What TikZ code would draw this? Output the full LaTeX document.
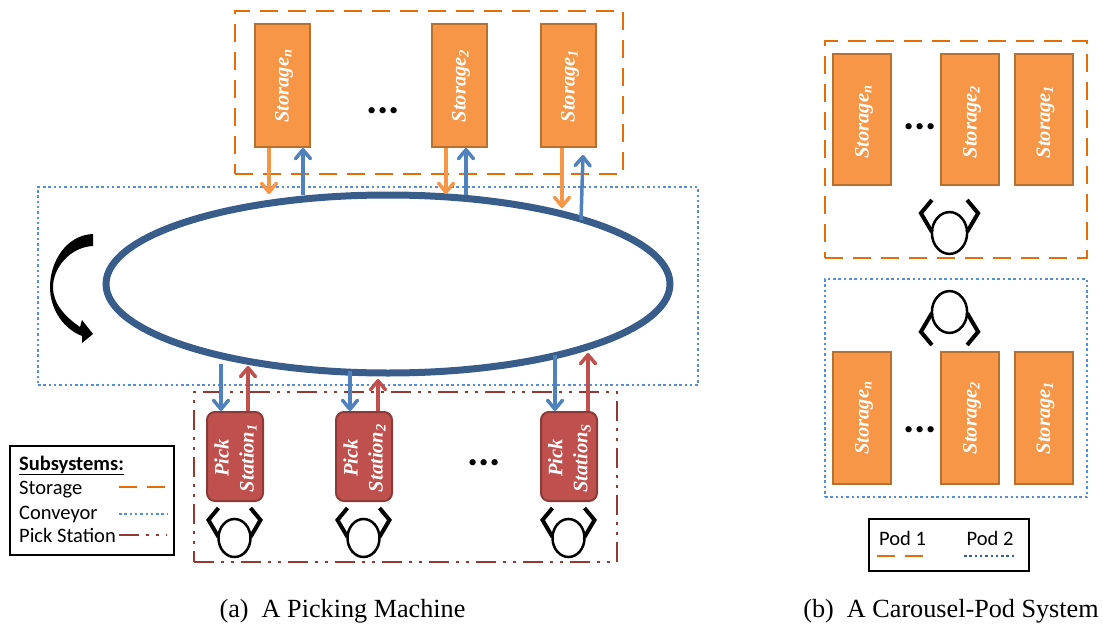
\documentclass[tikz,border=0pt]{standalone}
\usepackage{fontspec}
\setmainfont{Liberation Serif}
\newfontfamily\calibrifont{Carlito}
\usetikzlibrary{positioning, arrows.meta, shapes.geometric, calc}
\definecolor{storagefill}{HTML}{F79646}
\definecolor{storageedge}{HTML}{B7702F}
\definecolor{storagedash}{HTML}{E46C0A}
\definecolor{pickfill}{HTML}{C0504D}
\definecolor{pickedge}{HTML}{8C3A38}
\definecolor{pickdash}{HTML}{953735}
\definecolor{beltblue}{HTML}{4F81BD}
\definecolor{beltdot}{HTML}{558ED5}
\definecolor{beltedge}{HTML}{385D8A}
\definecolor{poddot}{HTML}{376092}
\tikzset{
    storagebox/.style={draw=storageedge, fill=storagefill, line width=2pt, inner sep=0pt},
    storagetext/.style={rotate=90, white, inner sep=0pt, font=\fontsize{20.5}{22}\selectfont\bfseries\itshape},
    pickbox/.style={draw=pickedge, fill=pickfill, line width=2pt, inner sep=0pt, rounded corners=8pt, minimum width=56pt, minimum height=89pt},
    picktext/.style={rotate=90, white, inner sep=0pt, align=center, font=\fontsize{20.5}{25}\selectfont\bfseries\itshape},
    storagegroup/.style={draw=storagedash, line width=2.5pt, dash pattern=on 18pt off 10pt},
    beltgroup/.style={draw=beltdot, line width=2.5pt, dash pattern=on 2.5pt off 2.8pt},
    pickgroup/.style={draw=pickdash, line width=2.5pt, dash pattern=on 20pt off 7pt on 3pt off 7pt on 3pt off 7pt},
    storeflow/.style={draw=storagefill, line width=3.5pt, -{Straight Barb[length=9pt, width=15pt, round]}},
    beltflow/.style={draw=beltblue, line width=3.5pt, -{Straight Barb[length=9pt, width=15pt, round]}},
    pickflow/.style={draw=pickfill, line width=3.5pt, -{Straight Barb[length=9pt, width=15pt, round]}},
    legendbox/.style={draw=black, line width=2.5pt, inner sep=0pt},
    legendtext/.style={anchor=base west, inner sep=0pt, font=\calibrifont\fontsize{20.5}{22}\selectfont},
    moredots/.style={anchor=base, inner sep=0pt, font=\calibrifont\fontsize{42}{44}\selectfont\bfseries},
    captiontext/.style={inner sep=0pt, font=\fontsize{26.2}{28}\selectfont},
    pics/person/.style={code={
        \draw[black, line width=2.5pt] (0,0) ellipse [x radius=16, y radius=19];
        \draw[black, line width=4pt] (-16,-1) -- (-26,-18) -- (-16,-30);
        \draw[black, line width=4pt] (16,-1) -- (26,-18) -- (16,-30);
    }}
}

\begin{document}
\begin{tikzpicture}[x=1pt, y=-1pt]
    \useasboundingbox (0,0) rectangle (1103,626);

    % === PICKING MACHINE: GROUPS ===
    \node[storagegroup, minimum width=388pt, minimum height=163pt, inner sep=0pt] (storagearea) at (429,92.5) {};
    \node[beltgroup, minimum width=660pt, minimum height=198pt, inner sep=0pt] (beltarea) at (368,286) {};
    \node[pickgroup, minimum width=423pt, minimum height=170pt, inner sep=0pt] (pickarea) at (405.5,477) {};

    % Storage
    \node[storagebox, minimum width=55pt, minimum height=123pt] (stn) at (282.5,85.5) {};
    \node[storagetext] (stnlabel) at (284,86) {Storage\textsubscript{n}};
    \node[storagebox, minimum width=55pt, minimum height=123pt] (st2) at (459.5,85.5) {};
    \node[storagetext] (st2label) at (461,86) {Storage\textsubscript{2}};
    \node[storagebox, minimum width=55pt, minimum height=123pt] (st1) at (568.5,85.5) {};
    \node[storagetext] (st1label) at (570,86) {Storage\textsubscript{1}};
    \node[moredots] (stdots) at (383,113) {...};

    % Conveyor
    \node[draw=beltedge, line width=7pt, ellipse, inner sep=0pt, minimum width=564pt, minimum height=178pt] (loop) at (388,284) {};
    \fill[black] (93,234) .. controls (66,235) and (50,262) .. (50,287)
        .. controls (50,308) and (62,328) .. (82,336) -- (82,343) -- (93,334) -- (82,320) -- (80,327)
        .. controls (64,316) and (53,303) .. (53,287)
        .. controls (53,268) and (70,247) .. (93,246) -- cycle;

    % Pick stations
    \node[pickbox] (pk1) at (235,456.5) {};
    \node[picktext] (pk1label) at (235.5,458) {Pick\\Station\textsubscript{1}};
    \node[pickbox] (pk2) at (364,456.5) {};
    \node[picktext] (pk2label) at (364.5,458) {Pick\\Station\textsubscript{2}};
    \node[pickbox] (pks) at (569,456.5) {};
    \node[picktext] (pkslabel) at (569.5,458) {Pick\\Station\textsubscript{S}};
    \node[moredots] (pkdots) at (484,465) {...};

    \pic at (234.5,538) {person};
    \pic at (363.5,538) {person};
    \pic at (568.5,538) {person};

    % Arrows storage <-> conveyor
    \coordinate (instn) at (269,194);
    \coordinate (outstn) at (303,195);
    \coordinate (inst2) at (446,194);
    \coordinate (outst2) at (466,195);
    \coordinate (inst1) at (562,208);
    \coordinate (outst1) at (581,220);
    \coordinate (tipst1) at (583,155);
    \draw[storeflow] (stn.south -| instn) -- (instn);
    \draw[beltflow] (outstn) -- (stn.south -| outstn);
    \draw[storeflow] (st2.south -| inst2) -- (inst2);
    \draw[beltflow] (outst2) -- (st2.south -| outst2);
    \draw[storeflow] (st1.south -| inst1) -- (inst1);
    \draw[beltflow] (outst1) -- (tipst1);

    % Arrows conveyor <-> pick stations
    \coordinate (inpk1) at (221,364);
    \coordinate (outpk1) at (248,366);
    \coordinate (inpk2) at (350,371);
    \coordinate (outpk2) at (378,379);
    \coordinate (inpks) at (555,355);
    \coordinate (outpks) at (588,353);
    \draw[beltflow] (inpk1) -- (pk1.north -| inpk1);
    \draw[pickflow] (pk1.north -| outpk1) -- (outpk1);
    \draw[beltflow] (inpk2) -- (pk2.north -| inpk2);
    \draw[pickflow] (pk2.north -| outpk2) -- (outpk2);
    \draw[beltflow] (inpks) -- (pks.north -| inpks);
    \draw[pickflow] (pks.north -| outpks) -- (outpks);

    % Legend subsystems
    \node[legendbox, minimum width=164pt, minimum height=109pt] (legsub) at (92,500.5) {};
    \node[legendtext] (legtitle) at (19,470) {\bfseries\underline{Subsystems:}};
    \node[legendtext] (legstorage) at (19,494) {Storage};
    \node[legendtext] (legbelt) at (19,519) {Conveyor};
    \node[legendtext] (legpick) at (19,542) {Pick Station};
    \coordinate (ls1) at (119,487);
    \coordinate (ls2) at (167,487);
    \coordinate (lb1) at (119,514);
    \coordinate (lb2) at (167,514);
    \coordinate (lp1) at (119,535);
    \coordinate (lp2) at (167,535);
    \draw[storagegroup] (ls1) -- (ls2);
    \draw[beltgroup] (lb1) -- (lb2);
    \draw[pickgroup] (lp1) -- (lp2);

    % === CAROUSEL-POD SYSTEM ===
    \node[storagegroup, minimum width=262pt, minimum height=217pt, inner sep=0pt] (podone) at (956,149.5) {};
    \node[storagebox, minimum width=58pt, minimum height=131pt] (aan) at (862,119.5) {};
    \node[storagetext] (aanlabel) at (864,122) {Storage\textsubscript{n}};
    \node[storagebox, minimum width=58pt, minimum height=131pt] (aa2) at (970,119.5) {};
    \node[storagetext] (aa2label) at (972,122) {Storage\textsubscript{2}};
    \node[storagebox, minimum width=58pt, minimum height=131pt] (aa1) at (1043.5,119.5) {};
    \node[storagetext] (aa1label) at (1045.5,122) {Storage\textsubscript{1}};
    \node[moredots] (aadots) at (920,129) {...};
    \pic[scale=1.1] at (949.5,233) {person};

    \node[beltgroup, minimum width=262pt, minimum height=218pt, inner sep=0pt] (podtwo) at (956,388) {};
    \pic[xscale=1.1, yscale=-1.1] at (949.5,312) {person};
    \node[storagebox, minimum width=58pt, minimum height=132pt] (bbn) at (862,418) {};
    \node[storagetext] (bbnlabel) at (864,418) {Storage\textsubscript{n}};
    \node[storagebox, minimum width=58pt, minimum height=132pt] (bb2) at (970,418) {};
    \node[storagetext] (bb2label) at (972,418) {Storage\textsubscript{2}};
    \node[storagebox, minimum width=58pt, minimum height=132pt] (bb1) at (1043.5,418) {};
    \node[storagetext] (bb1label) at (1045.5,418) {Storage\textsubscript{1}};
    \node[moredots] (bbdots) at (920,432) {...};

    % Legend pods
    \node[legendbox, minimum width=160pt, minimum height=52pt] (legpod) at (949,545) {};
    \node[legendtext, anchor=base] (legone) at (902.5,545) {Pod 1};
    \node[legendtext, anchor=base] (legtwo) at (990,545) {Pod 2};
    \coordinate (po1) at (877,556);
    \coordinate (po2) at (928,556);
    \coordinate (pt1) at (964,556);
    \coordinate (pt2) at (1015,556);
    \draw[storagegroup] (po1) -- (po2);
    \draw[beltgroup, draw=poddot] (pt1) -- (pt2);

    % Captions
    \node[captiontext] (capa) at (342.5,611) {(a)\ \ A Picking Machine};
    \node[captiontext] (capb) at (951,611) {(b)\ \ A Carousel-Pod System};
\end{tikzpicture}
\end{document}
